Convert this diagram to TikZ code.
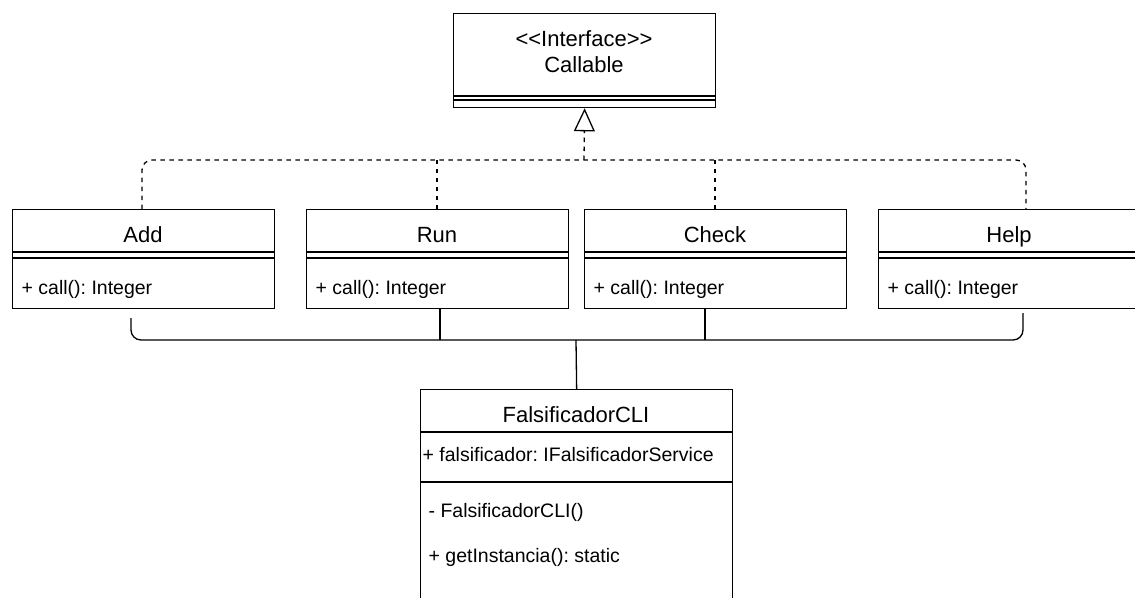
\documentclass[tikz,border=0pt]{standalone}
\usepackage{fontspec}
\setmainfont{Liberation Sans}
\usetikzlibrary{arrows.meta}
\frenchspacing
\begin{document}
\begin{tikzpicture}[x=1pt,y=-1pt,line width=1.3pt,
  classbox/.style={draw=black,fill=white,rectangle,inner sep=0pt,anchor=north west},
  sep/.style={line width=1.3pt},
  title/.style={font=\fontsize{22}{26}\selectfont,anchor=base,inner sep=0pt},
  member/.style={font=\fontsize{19.5}{23}\selectfont,anchor=base west,inner sep=0pt},
  realize/.style={dash pattern=on 4.5pt off 4.5pt},
  assoc/.style={rounded corners=10pt}]
\useasboundingbox (0,0) rectangle (1135,597);
\clip (0,0) rectangle (1135,597);

% interface
\node[classbox,minimum width=262pt,minimum height=94pt] (iface) at (453,13) {};
\draw[sep] (453,96) -- (715,96);
\draw[sep] (453,100) -- (715,100);
\node[title] (ifacest) at (584,46) {<\kern0pt<Interface>\kern0pt>};
\node[title] (ifacename) at (584,72) {Callable};

% command classes
\node[classbox,minimum width=262pt,minimum height=99pt] (add) at (12,209) {};
\node[classbox,minimum width=262pt,minimum height=99pt] (run) at (306,209) {};
\node[classbox,minimum width=262pt,minimum height=99pt] (check) at (584,209) {};
\node[classbox,minimum width=262pt,minimum height=99pt] (help) at (878,209) {};
\foreach \x in {12,306,584,878}{
  \draw[sep] (\x,252) -- ++(262,0);
  \draw[sep] (\x,258) -- ++(262,0);
}
\node[title] (addname) at (143,242) {Add};
\node[title] (runname) at (437,242) {Run};
\node[title] (checkname) at (715,242) {Check};
\node[title] (helpname) at (1009,242) {Help};
\node[member] (addm) at (21,294) {+ call(): Integer};
\node[member] (runm) at (315,294) {+ call(): Integer};
\node[member] (checkm) at (593,294) {+ call(): Integer};
\node[member] (helpm) at (887,294) {+ call(): Integer};

% client class
\node[classbox,minimum width=312pt,minimum height=240pt] (cli) at (420,389) {};
\draw[sep] (420,432) -- (732,432);
\draw[sep] (420,482) -- (732,482);
\node[title] (cliname) at (576,422) {FalsificadorCLI};
\node[member] (clia) at (422,461) {+ falsificador: IFalsificadorService};
\node[member] (clic) at (428,517) {- FalsificadorCLI()};
\node[member] (clig) at (428,562) {+ getInstancia(): static};

% realization connectors
\coordinate (rj) at (584,160);
\draw[realize,assoc] (add.north -| 142,0) -- (142,160) -- (1026,160) -- (help.north -| 1026,0);
\draw[realize] (run.north -| 437,0) -- (437,160);
\draw[realize] (check.north -| 715,0) -- (715,160);
\draw[realize,-{Triangle[open,length=23pt,width=21pt,line width=1.3pt]}] (rj) -- (iface.south);

% association connectors
\coordinate (aj) at (576,340);
\coordinate (adda) at (131,318);
\coordinate (helpa) at (1023,313);
\draw[assoc] (adda) -- (131,340) -- (1023,340) -- (helpa);
\draw (run.south -| 440,0) -- (440,340);
\draw (check.south -| 705,0) -- (705,340);
\draw (aj) -- (cli.north);
\end{tikzpicture}
\end{document}
